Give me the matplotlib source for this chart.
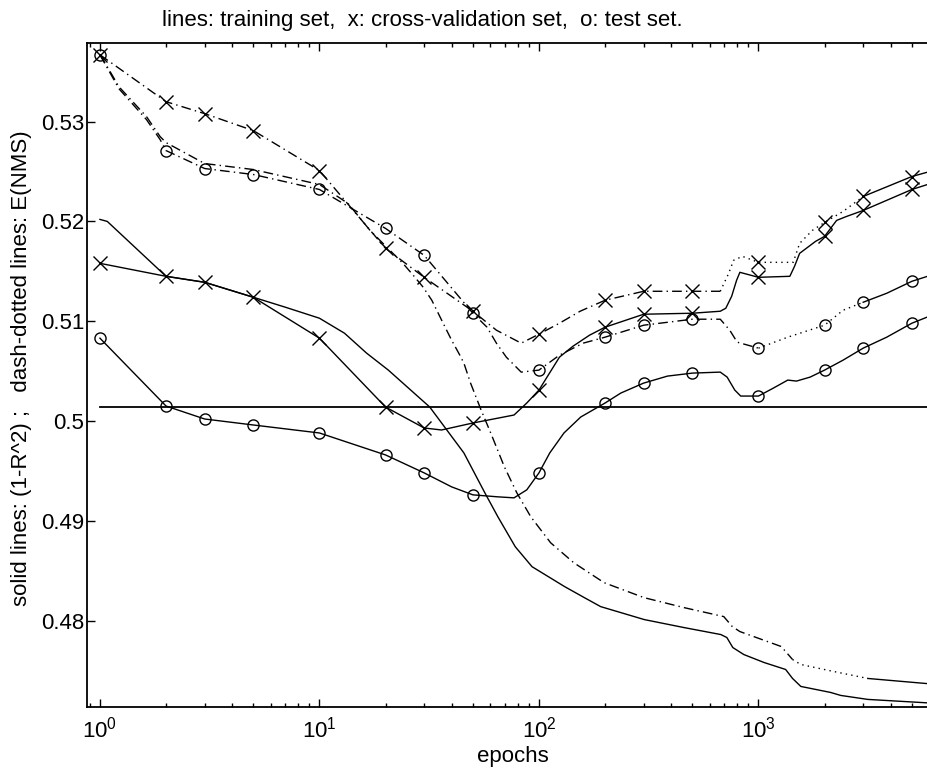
"""Training curves: (1-R^2) and E(NMS) against epochs for training, cross-validation and test sets"""
import numpy as np
import matplotlib
matplotlib.use("Agg")
import matplotlib.pyplot as plt
from matplotlib import ticker

plt.rcParams['font.family'] = ['Liberation Sans', 'DejaVu Sans']
plt.rcParams['mathtext.fontset'] = 'custom'
plt.rcParams['mathtext.rm'] = 'Liberation Sans'
plt.rcParams['mathtext.default'] = 'regular'

# epochs at which the validation / test sets were evaluated (marker positions)
marker_epochs = [1, 2, 3, 5, 10, 20, 30, 50, 100, 200, 300, 500, 1000, 2000, 3000, 5000]

# cross-validation set, E(NMS)  (dash-dotted, x)
cv_nms_marks = [0.5367, 0.5320, 0.5308, 0.5291, 0.5251, 0.5173, 0.5144, 0.5110,
                0.5087, 0.5121, 0.5130, 0.5130, 0.5159, 0.5199, 0.5225, 0.5245]
cv_nms_epochs = [1, 2, 3, 5, 10, 20, 30, 50, 64, 83, 100, 124, 154, 200, 300, 500, 670,
                 732, 770, 845, 1000, 1440, 1540, 1760, 2000, 2430, 3000, 5000, 6500]
cv_nms_vals = [0.5367, 0.5320, 0.5308, 0.5291, 0.5251, 0.5173, 0.5144, 0.5110, 0.5091,
               0.5078, 0.5087, 0.5098, 0.5110, 0.5121, 0.5130, 0.5130, 0.5130, 0.5148,
               0.5161, 0.5165, 0.5159, 0.5159, 0.5178, 0.5191, 0.5199, 0.5210, 0.5225,
               0.5245, 0.5252]

# cross-validation set, (1-R^2)  (solid, x)
cv_r2_marks = [0.5158, 0.5145, 0.5139, 0.5124, 0.5083, 0.5014, 0.4993, 0.4998,
               0.5031, 0.5094, 0.5107, 0.5108, 0.5144, 0.5185, 0.5211, 0.5232]
cv_r2_epochs = [1, 2, 3, 5, 10, 20, 30, 36, 50, 77, 88, 100, 124, 143, 170, 200, 300, 500,
                670, 710, 755, 795, 823, 1000, 1390, 1460, 1540, 1820, 2000, 2270, 2520,
                3000, 5000, 6500]
cv_r2_vals = [0.5158, 0.5145, 0.5139, 0.5124, 0.5083, 0.5014, 0.4993, 0.4991, 0.4998,
              0.5006, 0.5018, 0.5031, 0.5064, 0.5075, 0.5086, 0.5094, 0.5107, 0.5108,
              0.5110, 0.5113, 0.5125, 0.5141, 0.5149, 0.5144, 0.5145, 0.5155, 0.5168,
              0.5180, 0.5185, 0.5201, 0.5205, 0.5211, 0.5232, 0.5240]

# test set, E(NMS)  (dash-dotted, o)
test_nms_marks = [0.5367, 0.5271, 0.5253, 0.5247, 0.5232, 0.5193, 0.5166, 0.5108,
                  0.5051, 0.5084, 0.5096, 0.5102, 0.5073, 0.5096, 0.5119, 0.5140]
test_nms_epochs = [1, 1.22, 1.63, 1.88, 2, 3, 5, 10, 20, 30, 50, 58, 64, 71, 83, 100, 124,
                   159, 200, 300, 500, 670, 740, 800, 1000, 1360, 2000, 2430, 3000, 3840,
                   5000, 6500]
test_nms_vals = [0.5367, 0.5333, 0.5302, 0.5282, 0.5271, 0.5253, 0.5247, 0.5232, 0.5193,
                 0.5166, 0.5108, 0.5094, 0.5078, 0.5064, 0.5049, 0.5051, 0.5066, 0.5078,
                 0.5084, 0.5096, 0.5102, 0.5102, 0.5091, 0.5079, 0.5073, 0.5084, 0.5096,
                 0.5111, 0.5119, 0.5128, 0.5140, 0.5148]

# test set, (1-R^2)  (solid, o)
test_r2_marks = [0.5083, 0.5015, 0.5002, 0.4996, 0.4988, 0.4966, 0.4948, 0.4926,
                 0.4948, 0.5018, 0.5038, 0.5048, 0.5025, 0.5051, 0.5073, 0.5098]
test_r2_epochs = [1, 2, 3, 5, 10, 20, 30, 40, 50, 65, 77, 88, 100, 112, 130, 155, 200, 236,
                  300, 385, 500, 670, 720, 780, 830, 1000, 1170, 1360, 1490, 1720, 2000,
                  2430, 3000, 3840, 5000, 6500]
test_r2_vals = [0.5083, 0.5015, 0.5002, 0.4996, 0.4988, 0.4966, 0.4948, 0.4934, 0.4926,
                0.4924, 0.4923, 0.4931, 0.4948, 0.4968, 0.4988, 0.5004, 0.5018, 0.5028,
                0.5038, 0.5045, 0.5048, 0.5049, 0.5044, 0.5031, 0.5025, 0.5025, 0.5033,
                0.5041, 0.5040, 0.5044, 0.5051, 0.5061, 0.5073, 0.5084, 0.5098, 0.5108]

# training set, (1-R^2)  (solid, no markers)
train_r2_epochs = [1, 1.08, 2, 3, 5, 7, 10, 13, 16.4, 20.6, 31.8, 45.5, 56.7, 65, 78, 93,
                   131, 161, 191, 302, 458, 674, 718, 764, 857, 1060, 1330, 1430, 1560,
                   2130, 2370, 3150, 6500]
train_r2_vals = [0.5202, 0.5200, 0.5145, 0.5139, 0.5124, 0.5114, 0.5103, 0.5088, 0.5068,
                 0.5051, 0.5014, 0.4968, 0.4928, 0.4904, 0.4874, 0.4854, 0.4834, 0.4823,
                 0.4814, 0.4801, 0.4793, 0.4786, 0.4783, 0.4773, 0.4766, 0.4758, 0.4751,
                 0.4742, 0.4734, 0.4728, 0.4725, 0.4721, 0.4717]

# training set, E(NMS)  (dash-dotted, no markers)
train_nms_epochs = [1, 1.1, 1.22, 1.63, 1.88, 2, 3, 5, 10, 13.5, 17, 24, 27, 29.7, 32.5,
                    36.6, 40, 43.6, 45.5, 48.8, 54.5, 60.3, 69.6, 79.3, 91.8, 113, 144, 198,
                    301, 458, 695, 760, 823, 1270, 1430, 1560, 2200, 3150, 6500]
train_nms_vals = [0.5367, 0.5352, 0.5335, 0.5305, 0.5285, 0.5279, 0.5258, 0.5252, 0.5237,
                  0.5218, 0.5191, 0.5158, 0.5145, 0.5134, 0.5121, 0.5098, 0.5081, 0.5066,
                  0.5058, 0.5038, 0.5011, 0.4988, 0.4954, 0.4928, 0.4904, 0.4878, 0.4858,
                  0.4838, 0.4823, 0.4813, 0.4804, 0.4794, 0.4789, 0.4774, 0.4761, 0.4756,
                  0.4749, 0.4742, 0.4736]

# reference level
ref_epochs = [1, 6500]
ref_vals = [0.50137, 0.50137]

DASHDOT = (0, (7, 3, 1, 3))
DOTTED = (0, (1, 3))
LW = 1.0


def plot_segments(ax, x, y, pieces):
    """pieces: list of (start_epoch, end_epoch, linestyle)"""
    x = np.asarray(x, dtype=float)
    y = np.asarray(y, dtype=float)
    for lo, hi, ls in pieces:
        m = (x >= lo) & (x <= hi)
        ax.plot(x[m], y[m], color='k', linewidth=LW, linestyle=ls, zorder=2)


def plot_marks(ax, vals, marker, size):
    ax.plot(marker_epochs, vals, linestyle='none', marker=marker, markersize=size,
            markeredgewidth=1.0, markeredgecolor='k', markerfacecolor='none', zorder=3)


fig = plt.figure(figsize=(9.28, 7.69), dpi=100)
ax = fig.add_axes([87 / 928, 62 / 769, 851 / 928, 664 / 769])

ax.plot(ref_epochs, ref_vals, color='k', linewidth=1.3)

plot_segments(ax, train_r2_epochs, train_r2_vals, [(0, 1e5, '-')])
plot_segments(ax, train_nms_epochs, train_nms_vals,
              [(0, 1430, DASHDOT), (1430, 3150, DOTTED), (3150, 1e5, '-')])

plot_segments(ax, cv_r2_epochs, cv_r2_vals, [(0, 1e5, '-')])
plot_segments(ax, cv_nms_epochs, cv_nms_vals,
              [(0, 670, DASHDOT), (670, 3000, DOTTED), (3000, 1e5, '-')])
plot_marks(ax, cv_r2_marks, 'x', 10)
plot_marks(ax, cv_nms_marks, 'x', 10)

plot_segments(ax, test_r2_epochs, test_r2_vals, [(0, 1e5, '-')])
plot_segments(ax, test_nms_epochs, test_nms_vals,
              [(0, 1000, DASHDOT), (1000, 3000, DOTTED), (3000, 1e5, '-')])
plot_marks(ax, test_r2_marks, 'o', 8)
plot_marks(ax, test_nms_marks, 'o', 8)

ax.set_xscale('log')
ax.set_xlim(0.873, 6576)
ax.set_ylim(0.47134, 0.53788)
ax.set_yticks([0.48, 0.49, 0.50, 0.51, 0.52, 0.53])
ax.yaxis.set_major_formatter(ticker.FuncFormatter(lambda v, _: f'{v:g}'))
ax.xaxis.set_major_locator(ticker.LogLocator(base=10, numticks=10))
ax.xaxis.set_minor_locator(ticker.LogLocator(base=10, subs=np.arange(2, 10), numticks=50))
ax.xaxis.set_minor_formatter(ticker.NullFormatter())

ax.tick_params(which='both', direction='in', top=True, right=True, width=1.0)
ax.tick_params(which='major', length=6, labelsize=16)
ax.tick_params(which='minor', length=3)
ax.tick_params(axis='x', which='major', pad=7)
ax.tick_params(axis='y', which='major', pad=2)
for s in ax.spines.values():
    s.set_linewidth(1.3)

fig.text(162 / 928, 1 - 26 / 769,
         'lines: training set,  x: cross-validation set,  o: test set.',
         fontsize=16, ha='left', va='baseline')
fig.text(513 / 928, 1 - 762 / 769, 'epochs', fontsize=16, ha='center', va='baseline')
fig.text(22 / 928, 1 - 368 / 769,
         'solid lines: (1-R^2) ;   dash-dotted lines: E(NMS)',
         fontsize=16, rotation=90, ha='center', va='center')

fig.savefig('out.png', dpi=100)
